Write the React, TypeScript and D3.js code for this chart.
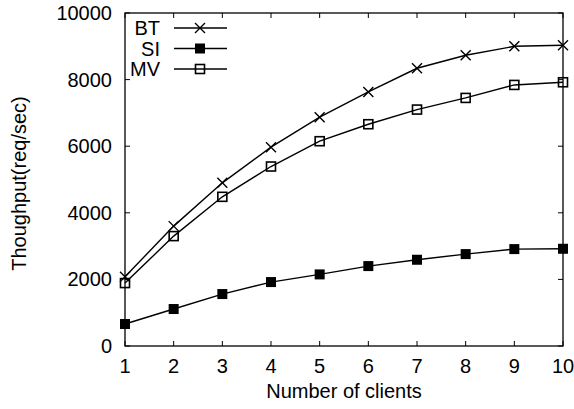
import React, { useEffect, useRef } from 'react';
import * as d3 from 'd3';

const clients = [1, 2, 3, 4, 5, 6, 7, 8, 9, 10];
const btValues = [2080, 3600, 4900, 5970, 6870, 7630, 8340, 8730, 9000, 9030];
const siValues = [660, 1110, 1560, 1920, 2150, 2400, 2590, 2760, 2910, 2920];
const mvValues = [1890, 3300, 4480, 5390, 6150, 6660, 7100, 7450, 7840, 7920];
const yTicks = [0, 2000, 4000, 6000, 8000, 10000];

const seriesList = [
  { name: 'BT', values: btValues, marker: 'cross' },
  { name: 'SI', values: siValues, marker: 'filled' },
  { name: 'MV', values: mvValues, marker: 'open' },
];

const App = () => {
  const svgRef = useRef<SVGSVGElement>(null);

  useEffect(() => {
    const W = 574, H = 409;
    const margin = { top: 13, right: 11, bottom: 63, left: 125 };
    const width = W - margin.left - margin.right;
    const height = H - margin.top - margin.bottom;

    const root = d3.select(svgRef.current);
    root.selectAll('*').remove();
    root.attr('width', W).attr('height', H);

    const svg = root.append('g').attr('transform', `translate(${margin.left},${margin.top})`);
    const font = '"Liberation Sans", Arial, sans-serif';

    const x = d3.scaleLinear().domain([1, 10]).range([0, width]);
    const y = d3.scaleLinear().domain([0, 10000]).range([height, 0]);

    const tickLen = 5;

    // ticks inward on all four sides
    clients.forEach(c => {
      svg.append('line').attr('x1', x(c)).attr('x2', x(c)).attr('y1', height).attr('y2', height - tickLen)
        .attr('stroke', '#000').attr('stroke-width', 1);
      svg.append('line').attr('x1', x(c)).attr('x2', x(c)).attr('y1', 0).attr('y2', tickLen)
        .attr('stroke', '#000').attr('stroke-width', 1);
      svg.append('text').attr('x', x(c)).attr('y', height + 27).attr('text-anchor', 'middle')
        .style('font-family', font).style('font-size', '20px').text(c);
    });
    yTicks.forEach(t => {
      svg.append('line').attr('x1', 0).attr('x2', tickLen).attr('y1', y(t)).attr('y2', y(t))
        .attr('stroke', '#000').attr('stroke-width', 1);
      svg.append('line').attr('x1', width).attr('x2', width - tickLen).attr('y1', y(t)).attr('y2', y(t))
        .attr('stroke', '#000').attr('stroke-width', 1);
      svg.append('text').attr('x', -13).attr('y', y(t) + 7).attr('text-anchor', 'end')
        .style('font-family', font).style('font-size', '20px').text(t);
    });

    svg.append('rect').attr('x', 0).attr('y', 0).attr('width', width).attr('height', height)
      .attr('fill', 'none').attr('stroke', '#000').attr('stroke-width', 1.3);

    // axis titles
    svg.append('text').attr('x', width / 2).attr('y', height + 52).attr('text-anchor', 'middle')
      .style('font-family', font).style('font-size', '20px').text('Number of clients');
    svg.append('text')
      .attr('transform', `translate(${26 - margin.left},${height / 2 + 4}) rotate(-90)`)
      .attr('text-anchor', 'middle')
      .style('font-family', font).style('font-size', '20px').text('Thoughput(req/sec)');

    const drawMarker = (g: any, kind: string, cx: number, cy: number) => {
      const s = 5;
      if (kind === 'cross') {
        g.append('path').attr('d', `M${cx - s},${cy - s}L${cx + s},${cy + s}M${cx - s},${cy + s}L${cx + s},${cy - s}`)
          .attr('stroke', '#000').attr('stroke-width', 1.4).attr('fill', 'none');
      } else if (kind === 'filled') {
        g.append('rect').attr('x', cx - s).attr('y', cy - s).attr('width', 2 * s).attr('height', 2 * s)
          .attr('fill', '#000');
      } else {
        g.append('rect').attr('x', cx - s + 0.5).attr('y', cy - s + 0.5).attr('width', 2 * s - 1).attr('height', 2 * s - 1)
          .attr('fill', 'none').attr('stroke', '#000').attr('stroke-width', 1.6);
      }
    };

    const line = d3.line<number>().x((d, i) => x(clients[i])).y(d => y(d));

    seriesList.forEach(s => {
      svg.append('path').datum(s.values).attr('d', line).attr('fill', 'none')
        .attr('stroke', '#000').attr('stroke-width', 1.4);
      const g = svg.append('g');
      s.values.forEach((v, i) => drawMarker(g, s.marker, x(clients[i]), y(v)));
    });

    // Legend
    const legend = svg.append('g');
    seriesList.forEach((s, i) => {
      const ly = 15 + i * 20.5;
      legend.append('text').attr('x', 35).attr('y', ly + 7).attr('text-anchor', 'end')
        .style('font-family', font).style('font-size', '20px').text(s.name);
      legend.append('line').attr('x1', 49).attr('x2', 102).attr('y1', ly).attr('y2', ly)
        .attr('stroke', '#000').attr('stroke-width', 1.4);
      drawMarker(legend, s.marker, 75, ly);
    });
  }, []);

  return <svg ref={svgRef} style={{ display: 'block', position: 'absolute', left: 0, top: 0, background: '#fff' }}></svg>;
};

export default App;
